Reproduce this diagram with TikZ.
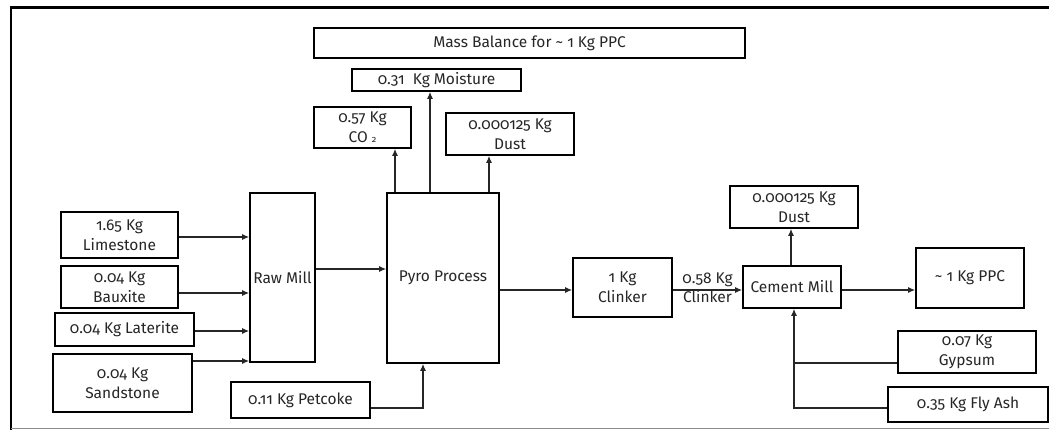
\documentclass[tikz,border=0pt]{standalone}
\usepackage{fontspec}
\setmainfont{Fira Sans}[Numbers=OldStyle]
\usetikzlibrary{arrows.meta}
\begin{document}
\begin{tikzpicture}[x=1pt,y=-1pt,
  box/.style={draw=black,line width=1.7pt,inner sep=0pt,align=center,font=\fontsize{15.5}{20}\selectfont,text=black!85},
  arr/.style={draw=black!85,line width=1.1pt,-{Latex[length=7pt,width=6pt]}},
  ln/.style={draw=black!85,line width=1.1pt},
  lbl/.style={font=\fontsize{15.5}{20}\selectfont,text=black!85,inner sep=1pt}]
\useasboundingbox (0,0) rectangle (1049,430);
% frame
\draw[line width=3pt] (10,8) -- (1049,8);
\draw[line width=2.8pt] (11,6.5) -- (11,430);
\draw[black!45,line width=1pt] (11,428.5) -- (1049,428.5);
% nodes
\node[box,minimum width=431,minimum height=30] (mass) at (529.5,43) {Mass Balance for \textasciitilde{} 1 Kg PPC};
\node[box,minimum width=169,minimum height=22] (moist) at (436.5,80) {0.31\ \ Kg Moisture};
\node[box,minimum width=97,minimum height=41] (co2) at (362.5,127.5) {0.57 Kg\\CO {\small 2}};
\node[box,minimum width=128,minimum height=42] (dusta) at (510,134) {0.000125 Kg\\Dust};
\node[box,minimum width=112,minimum height=170] (pyro) at (443,278) {Pyro Process};
\node[box,minimum width=65,minimum height=169] (raw) at (282.5,277.5) {Raw Mill};
\node[box,minimum width=117,minimum height=46] (lime) at (119.5,235) {1.65 Kg\\Limestone};
\node[box,minimum width=117,minimum height=42] (baux) at (119.5,287) {0.04 Kg\\Bauxite};
\node[box,minimum width=139,minimum height=33] (later) at (124.5,329.5) {0.04 Kg Laterite};
\node[box,minimum width=139,minimum height=58] (sand) at (122.5,383) {0.04 Kg\\Sandstone};
\node[box,minimum width=139,minimum height=36] (pet) at (300.5,400) {0.11 Kg Petcoke};
\node[box,minimum width=99,minimum height=59] (clink) at (622.5,287.5) {1 Kg\\Clinker};
\node[box,minimum width=98,minimum height=42] (cem) at (792,287) {Cement Mill};
\node[box,minimum width=128,minimum height=42] (dustb) at (794,207) {0.000125 Kg\\Dust};
\node[box,minimum width=108,minimum height=60] (ppc) at (970,278) {\textasciitilde{} 1 Kg PPC};
\node[box,minimum width=138,minimum height=42] (gyp) at (967,352) {0.07 Kg\\Gypsum};
\node[box,minimum width=160,minimum height=35] (fly) at (968,404.5) {0.35 Kg Fly Ash};
% connectors
\draw[arr] (lime.east |- 0,237) -- (raw.west |- 0,237);
\draw[arr] (baux.east |- 0,293) -- (raw.west |- 0,293);
\draw[arr] (later.east |- 0,331) -- (raw.west |- 0,331);
\draw[arr] (sand.east |- 0,361) -- (raw.west |- 0,361);
\draw[arr] (raw.east |- 0,269) -- (pyro.west |- 0,269);
\draw[arr] (pyro.north -| 395,0) -- (co2.south -| 395,0);
\draw[arr] (pyro.north -| 430,0) -- (moist.south -| 430,0);
\draw[arr] (pyro.north -| 489,0) -- (dusta.south -| 489,0);
\coordinate (pk) at (423,408);
\draw[arr] (pet.east |- pk) -- (pk) -- (pyro.south -| pk);
\draw[arr] (pyro.east |- 0,290) -- (clink.west |- 0,290);
\draw[arr] (clink.east |- 0,290) -- (cem.west |- 0,290)
  node[lbl,pos=0.5,above=2pt] (l1) {0.58 Kg}
  node[lbl,pos=0.5,below=-1pt] (l2) {Clinker};
\draw[arr] (cem.east |- 0,290) -- (ppc.west |- 0,290);
\draw[arr] (cem.north -| 791,0) -- (dustb.south -| 791,0);
\coordinate (fa) at (794,408);
\coordinate (gj) at (794,363);
\draw[ln] (gyp.west |- gj) -- (gj);
\draw[arr] (fly.west |- fa) -- (fa) -- (cem.south -| fa);
\end{tikzpicture}
\end{document}
